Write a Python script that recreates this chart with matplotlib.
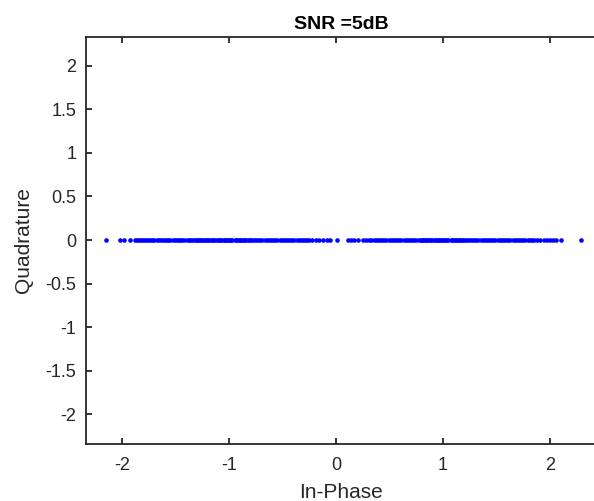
import numpy as np
import matplotlib.pyplot as plt

plt.rcParams['font.family'] = ['Liberation Sans', 'DejaVu Sans']

# received in-phase samples (quadrature is zero for every sample)
in_phase_left_tail = [-2.15, -2.02, -1.98, -1.93]
in_phase_neg = [
    -1.88, -1.86, -1.84, -1.83, -1.81, -1.79, -1.77, -1.75, -1.73, -1.71,
    -1.70, -1.68, -1.66, -1.64, -1.62, -1.60, -1.58, -1.57, -1.55, -1.53,
    -1.51, -1.49, -1.47, -1.46, -1.44, -1.42, -1.40, -1.38, -1.37, -1.35,
    -1.33, -1.31, -1.30, -1.29, -1.27, -1.26, -1.25, -1.24, -1.22, -1.21,
    -1.20, -1.18, -1.16, -1.15, -1.14, -1.12, -1.11, -1.10, -1.09, -1.07,
    -1.05, -1.04, -1.03, -1.01, -1.00, -0.99, -0.98, -0.97, -0.95, -0.94,
    -0.93, -0.91, -0.90, -0.89, -0.87, -0.86, -0.85, -0.83, -0.82, -0.81,
    -0.79, -0.77, -0.75, -0.73, -0.71, -0.69, -0.67, -0.65, -0.63, -0.61,
    -0.59, -0.57, -0.55, -0.53, -0.51, -0.49, -0.47, -0.45, -0.43, -0.41,
    -0.39, -0.37, -0.35, -0.33, -0.31, -0.29, -0.27, -0.25, -0.23,
]
in_phase_mid = [-0.19, -0.16, -0.12, -0.09, -0.06, 0.01, 0.11, 0.14, 0.17,
                0.20, 0.25, 0.28, 0.31]
in_phase_pos = [
    0.33, 0.35, 0.37, 0.39, 0.41, 0.43, 0.45, 0.47, 0.49, 0.51,
    0.53, 0.55, 0.57, 0.59, 0.61, 0.63, 0.65, 0.67, 0.69, 0.71,
    0.73, 0.75, 0.77, 0.79, 0.80, 0.81, 0.83, 0.84, 0.85, 0.87,
    0.88, 0.89, 0.91, 0.92, 0.93, 0.95, 0.96, 0.97, 0.99, 1.00,
    1.01, 1.03, 1.04, 1.05, 1.07, 1.08, 1.09, 1.11, 1.12, 1.13,
    1.15, 1.16, 1.17, 1.19, 1.20, 1.21, 1.23, 1.25, 1.27, 1.29,
    1.31, 1.33, 1.35, 1.37, 1.39, 1.41, 1.43, 1.45, 1.47, 1.49,
    1.51, 1.53, 1.55, 1.57, 1.59, 1.61, 1.63, 1.65, 1.67, 1.69,
    1.71, 1.73, 1.75, 1.77, 1.79, 1.81, 1.83, 1.85,
]
in_phase_right_tail = [1.88, 1.91, 1.94, 1.97, 2.00, 2.03, 2.06, 2.10, 2.29]

in_phase = np.array(in_phase_left_tail + in_phase_neg + in_phase_mid
                    + in_phase_pos + in_phase_right_tail)
quadrature = np.zeros(len(in_phase))

x_ticks = [-2, -1, 0, 1, 2]
y_ticks = [-2, -1.5, -1, -0.5, 0, 0.5, 1, 1.5, 2]
y_tick_labels = ['-2', '-1.5', '-1', '-0.5', '0', '0.5', '1', '1.5', '2']

fig = plt.figure(figsize=(5.94, 5.01), dpi=100)
# right edge of the box falls on the image border (cut off in the source)
ax = fig.add_axes([86/594, 57/501, 510/594, 407/501])

ax.plot(in_phase, quadrature, 'o', color=(0, 0, 1), markersize=3.3,
        markeredgewidth=0)

ax.set_xlim(-2.34, 2.43)
ax.set_ylim(-2.34, 2.33)
ax.set_xticks(x_ticks)
ax.set_xticklabels([str(t) for t in x_ticks])
ax.set_yticks(y_ticks)
ax.set_yticklabels(y_tick_labels)

axis_col = '#262626'
for name in ['left', 'bottom', 'top']:
    ax.spines[name].set_color(axis_col)
    ax.spines[name].set_linewidth(1.3)
ax.spines['right'].set_visible(False)
ax.tick_params(direction='in', length=4, width=1.3, colors=axis_col,
               labelsize=13, top=True, right=False)
ax.tick_params(axis='x', pad=9)
ax.tick_params(axis='y', pad=7)

ax.set_xlabel('In-Phase', fontsize=15, color=axis_col, labelpad=7)
ax.set_ylabel('Quadrature', fontsize=15, color=axis_col, labelpad=9)
ax.set_title('SNR =5dB', fontsize=14, fontweight='bold', pad=6)

fig.savefig('out.png', dpi=100)
